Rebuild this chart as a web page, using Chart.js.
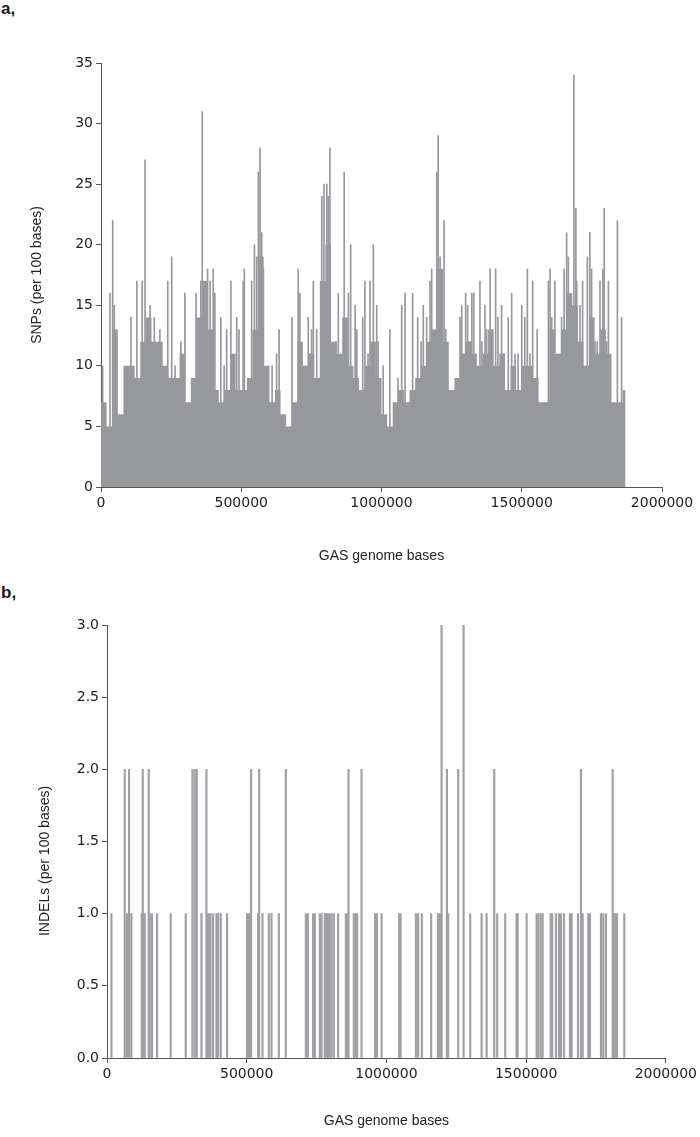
<!DOCTYPE html>
<html>
<head>
<meta charset="utf-8">
<script src="https://cdn.jsdelivr.net/npm/chart.js@4.4.1/dist/chart.umd.min.js"></script>
<style>
  body { margin: 0; background: #fff; width: 700px; height: 1137px; position: relative; overflow: hidden; }
  .panel { position: absolute; left: 0; width: 700px; }
  #wrapA { top: 0; height: 580px; }
  #wrapB { top: 570px; height: 567px; }
  .tag { position: absolute; left: 1px; font: bold 17px "Liberation Sans", Arial, sans-serif; line-height: 17px; color: #1a1a1a; }
</style>
</head>
<body>
<div class="tag" style="top:0px">a,</div>
<div class="tag" style="top:584px">b,</div>
<div class="panel" id="wrapA"><canvas id="snpChart" width="700" height="580"></canvas></div>
<div class="panel" id="wrapB"><canvas id="indelChart" width="700" height="567"></canvas></div>
<script>
// x axis (genome position) ticks shared by both panels
const xTicks = [0, 500000, 1000000, 1500000, 2000000];
const genomeEnd = 1870000;

// Panel a: local SNP level per 20 kb stretch (the solid grey mass)
const snpBinSize = 20000;
const snpLevels = [
  7, 5, 13, 6, 10, 10, 9, 12, 14, 12,
  12, 10, 9, 9, 11, 7, 9, 14, 17, 13,
  8, 7, 8, 11, 8, 8, 9, 13, 19, 10,
  7, 8, 6, 5, 7, 12, 10, 11, 9, 17,
  20, 12, 11, 14, 10, 9, 8, 10, 12, 9,
  6, 5, 7, 8, 7, 8, 9, 10, 12, 13,
  18, 12, 8, 9, 11, 12, 11, 10, 11, 13,
  10, 11, 8, 10, 8, 10, 10, 9, 7, 7,
  13, 11, 13, 16, 15, 12, 10, 14, 11, 13,
  11, 7, 7, 8
];

// Panel a: individual 100-base windows standing out above the mass
const snpPeakPos = [
  6000, 32000, 41700, 47400, 107000, 128000, 147000, 157000, 175000, 190000,
  210000, 238000, 252000, 299000, 339000, 356000, 361000, 380000, 400000, 406000,
  427000, 448000, 463000, 484000, 507000, 511000, 537000, 547000, 555000, 561000,
  567000, 573000, 579000, 626000, 635000, 681000, 703000, 709000, 739000, 751000,
  757000, 769000, 787000, 795000, 805000, 810000, 816000, 846000, 867000, 882000,
  890000, 906000, 912000, 933000, 941000, 959000, 971000, 983000, 1006000, 1030000,
  1072000, 1084000, 1111000, 1129000, 1149000, 1161000, 1173000, 1179000, 1197000, 1202000,
  1209000, 1223000, 1229000, 1280000, 1286000, 1300000, 1322000, 1329000, 1351000, 1369000,
  1387000, 1407000, 1428000, 1452000, 1464000, 1500000, 1511000, 1520000, 1539000, 1555000,
  1595000, 1601000, 1618000, 1642000, 1651000, 1660000, 1666000, 1686000, 1693000, 1708000,
  1717000, 1734000, 1743000, 1749000, 1779000, 1789000, 1794000, 1809000, 1841000, 1856000
];
const snpPeakVal = [
  10, 16, 22, 15, 14, 17, 17, 27, 15, 14,
  13, 17, 19, 16, 16, 17, 31, 18, 18, 16,
  14, 13, 17, 14, 17, 18, 17, 20, 19, 26,
  28, 21, 18, 11, 13, 14, 18, 16, 14, 13,
  17, 13, 24, 25, 25, 24, 28, 16, 26, 16,
  20, 15, 13, 14, 17, 17, 20, 15, 10, 13,
  15, 16, 16, 14, 15, 14, 17, 18, 26, 29,
  19, 22, 13, 14, 15, 16, 16, 16, 17, 15,
  18, 18, 15, 14, 16, 15, 14, 18, 17, 13,
  17, 18, 17, 14, 18, 21, 19, 34, 23, 15,
  17, 19, 21, 18, 17, 18, 23, 17, 22, 14
];

// Panel a: smaller windows poking just above the mass
const snpMinorPos = [
  264000, 285000, 389000, 439000, 492000, 597000, 610000, 745000, 838000, 876000,
  952000, 988000, 1059000, 1141000, 1166000, 1215000, 1291000, 1307000, 1315000, 1358000,
  1375000, 1393000, 1415000, 1437000, 1476000, 1487000, 1529000, 1607000, 1672000, 1696000,
  1761000, 1769000, 1803000
];
const snpMinorVal = [
  10, 12, 17, 10, 13, 10, 10, 11, 12, 10,
  11, 12, 9, 12, 11, 15, 11, 15, 12, 12,
  13, 13, 14, 11, 11, 11, 11, 14, 11, 17,
  12, 12, 12
];

// Panel b: INDEL windows
const indelPos = [
  15800, 63400, 71700, 78900, 87300, 124300, 127800, 131400, 135000, 149300,
  152900, 161200, 179100, 228100, 281800, 305800, 314000, 321200, 338000, 355900,
  359500, 364200, 370200, 379600, 391700, 397500, 407100, 429700,
  501400, 508500, 515700, 540800, 544400, 556500, 579100, 588700, 614900, 640000,
  711600, 718800, 737700, 743800, 761700, 767800, 779600, 783200, 788000, 791500,
  797500, 803600, 811800, 827200, 854800, 859400, 864400, 883400, 890600, 895300,
  911000, 959700, 965800, 982600,
  1045700, 1050600, 1105400, 1113700, 1126900, 1160200, 1184200, 1191400, 1197400, 1216500,
  1221100, 1256900, 1276200, 1299900, 1340700, 1358600, 1385900, 1396600, 1425300, 1466000,
  1469600,
  1501800, 1537600, 1543400, 1552000, 1559100, 1587800, 1593500, 1606800, 1617500, 1624700,
  1635400, 1656900, 1663000, 1685600, 1696300, 1702400, 1722400, 1728500, 1767900, 1776200,
  1785800, 1809800, 1814400, 1819100, 1825200, 1851400
];
const indelVal = [
  1, 2, 1, 2, 1, 1, 2, 1, 1, 2,
  1, 1, 1, 1, 1, 2, 2, 2, 1, 2,
  1, 1, 1, 1, 1, 1, 1, 1,
  1, 1, 2, 1, 2, 1, 1, 1, 1, 2,
  1, 1, 1, 1, 1, 1, 1, 1, 1, 1,
  1, 1, 1, 1, 1, 1, 2, 1, 1, 1,
  2, 1, 1, 1,
  1, 1, 1, 1, 1, 1, 1, 1, 3, 2,
  1, 2, 3, 1, 1, 1, 2, 1, 1, 1,
  1,
  1, 1, 1, 1, 1, 1, 1, 1, 1, 1,
  1, 1, 1, 1, 2, 1, 1, 1, 1, 1,
  1, 2, 1, 1, 1, 1
];

Chart.defaults.font.family = "'DejaVu Sans', sans-serif";
Chart.defaults.animation = false;

const tickFont = { family: "'DejaVu Sans', sans-serif", size: 14 };
const titleFont = { family: "'Liberation Sans', Arial, sans-serif", size: 14 };
const axisColor = '#555';
const textColor = '#222';

function xAxis(scaleHeight, titlePad) {
  return {
    type: 'linear', min: 0, max: 2000000, offset: false, z: 1,
    afterBuildTicks: s => { s.ticks = xTicks.map(v => ({ value: v })); },
    afterFit: s => { s.height = scaleHeight; },
    ticks: { color: textColor, font: tickFont, padding: 3, maxRotation: 0, autoSkip: false, callback: v => String(v) },
    grid: { display: true, drawOnChartArea: false, drawTicks: true, tickLength: 5, color: axisColor, offset: false },
    border: { display: true, color: axisColor, width: 1 },
    title: { display: true, text: 'GAS genome bases', color: textColor, font: titleFont, padding: { top: 0, bottom: titlePad } }
  };
}

function yAxis(scaleWidth, max, step, label, titlePad, fmt) {
  return {
    min: 0, max: max, z: 1,
    afterFit: s => { s.width = scaleWidth; },
    ticks: { stepSize: step, color: textColor, font: tickFont, padding: 3, callback: fmt },
    grid: { display: true, drawOnChartArea: false, drawTicks: true, tickLength: 5, color: axisColor },
    border: { display: true, color: axisColor, width: 1 },
    title: { display: true, text: label, color: textColor, font: titleFont, padding: { top: titlePad, bottom: 0 } }
  };
}

// SNP chart
const snpBody = snpLevels.map((v, i) => ({ x: i * snpBinSize, y: v }));
snpBody.push({ x: genomeEnd, y: 0 });
const snpPeaks = snpPeakPos.map((p, i) => ({ x: p, y: snpPeakVal[i] }))
  .concat(snpMinorPos.map((p, i) => ({ x: p, y: snpMinorVal[i] })));

new Chart(document.getElementById('snpChart'), {
  type: 'bar',
  data: {
    datasets: [{
      type: 'line',
      data: snpBody,
      stepped: true,
      fill: 'origin',
      backgroundColor: '#97989c',
      borderWidth: 0,
      borderColor: 'rgba(0,0,0,0)',
      pointRadius: 0
    }, {
      type: 'bar',
      data: snpPeaks,
      backgroundColor: '#97989c',
      barThickness: 1
    }]
  },
  options: {
    responsive: false,
    layout: { padding: { top: 63, right: 38, left: 0, bottom: 0 } },
    plugins: { legend: { display: false }, tooltip: { enabled: false } },
    scales: {
      x: xAxis(93, 15),
      y: yAxis(101, 35, 5, 'SNPs (per 100 bases)', 29, v => String(v))
    }
  }
});

// INDEL chart
const indelBars = indelPos.map((p, i) => ({ x: p, y: indelVal[i] }));

new Chart(document.getElementById('indelChart'), {
  type: 'bar',
  data: {
    datasets: [{
      data: indelBars,
      backgroundColor: '#a0a0a4',
      barThickness: 1.5
    }]
  },
  options: {
    responsive: false,
    layout: { padding: { top: 55, right: 34, left: 0, bottom: 0 } },
    plugins: { legend: { display: false }, tooltip: { enabled: false } },
    scales: {
      x: xAxis(79, 7),
      // trailing spaces push the label lower along the axis, as in the original
      y: yAxis(107, 3, 0.5, 'INDELs (per 100 bases)          ', 37, v => v.toFixed(1))
    }
  }
});
</script>
</body>
</html>
